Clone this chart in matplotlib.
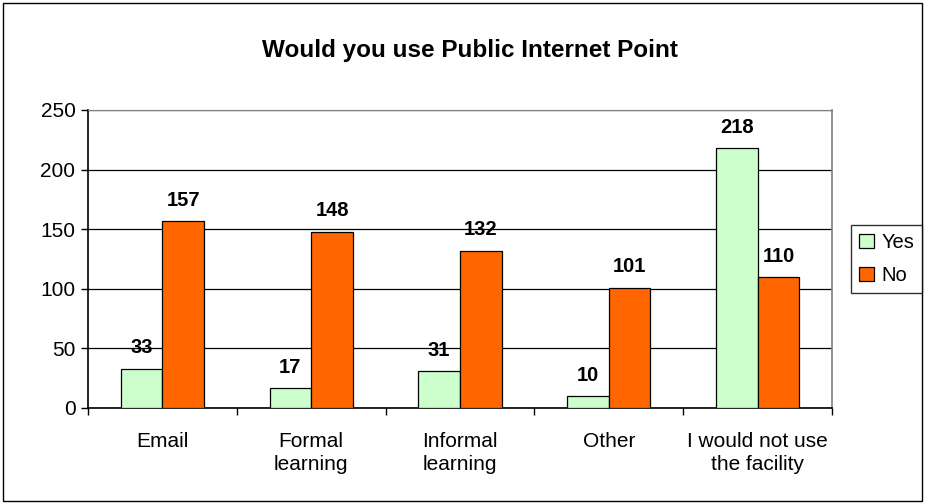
import numpy as np
import matplotlib
matplotlib.use("Agg")
import matplotlib.pyplot as plt
from matplotlib.patches import Rectangle

plt.rcParams["font.family"] = ["Liberation Sans", "DejaVu Sans"]

# Data
categories = ["Email", "Formal\nlearning", "Informal\nlearning", "Other", "I would not use\nthe facility"]
yes_values = [33, 17, 31, 10, 218]
no_values = [157, 148, 132, 101, 110]
series_names = ["Yes", "No"]
yes_color = "#CCFFCC"
no_color = "#FF6600"

fig = plt.figure(figsize=(9.26, 5.03), dpi=100)
fig.patch.set_facecolor("white")

# outer chart border
fig.patches.append(Rectangle((0.003, 0.004), 0.993, 0.99, transform=fig.transFigure,
                             fill=False, edgecolor="black", linewidth=1.0))

ax = fig.add_axes([0.095, 0.189, 0.8035, 0.5925])

x = np.arange(len(categories))
w = 0.28

bars_yes = ax.bar(x - w / 2, yes_values, w, color=yes_color, edgecolor="black",
                  linewidth=0.9, label=series_names[0], zorder=3)
bars_no = ax.bar(x + w / 2, no_values, w, color=no_color, edgecolor="black",
                 linewidth=0.9, label=series_names[1], zorder=3)

for bars in (bars_yes, bars_no):
    for b in bars:
        ax.annotate(f"{int(b.get_height())}",
                    (b.get_x() + b.get_width() / 2, b.get_height()),
                    xytext=(0, 8), textcoords="offset points",
                    ha="center", va="bottom", fontsize=14.5, fontweight="bold", zorder=4)

ax.set_ylim(0, 250)
ax.set_xlim(-0.5, len(categories) - 0.5)
ax.set_yticks(range(0, 251, 50))
ax.yaxis.grid(True, color="black", linewidth=0.9, zorder=0)
ax.set_axisbelow(True)

ax.set_xticks(x)
ax.set_xticklabels(categories, fontsize=15, linespacing=1.3)
ax.set_xticks(np.arange(-0.5, len(categories), 1.0), minor=True)
ax.tick_params(axis="x", which="major", length=0, pad=17)
ax.tick_params(axis="x", which="minor", length=5, width=1.0, direction="out")
ax.tick_params(axis="y", length=5, width=1.0, direction="out", labelsize=15, pad=4)

ax.spines["left"].set_color("black")
ax.spines["left"].set_linewidth(1.2)
ax.spines["bottom"].set_color("black")
ax.spines["bottom"].set_linewidth(1.2)
ax.spines["top"].set_color("#808080")
ax.spines["right"].set_color("#808080")
ax.spines["right"].set_linewidth(1.2)

fig.text(0.508, 0.9, "Would you use Public Internet Point", ha="center", va="center",
         fontsize=17.5, fontweight="bold")

leg = fig.legend(handles=[bars_yes, bars_no], labels=series_names,
                 loc="center left", bbox_to_anchor=(0.919, 0.485), borderaxespad=0,
                 fontsize=14.5, frameon=True, fancybox=False, edgecolor="black",
                 handlelength=0.75, handleheight=0.75, handletextpad=0.35,
                 labelspacing=0.7, borderpad=0.4)
leg.get_frame().set_linewidth(1.0)

fig.savefig("out.png", dpi=100)
